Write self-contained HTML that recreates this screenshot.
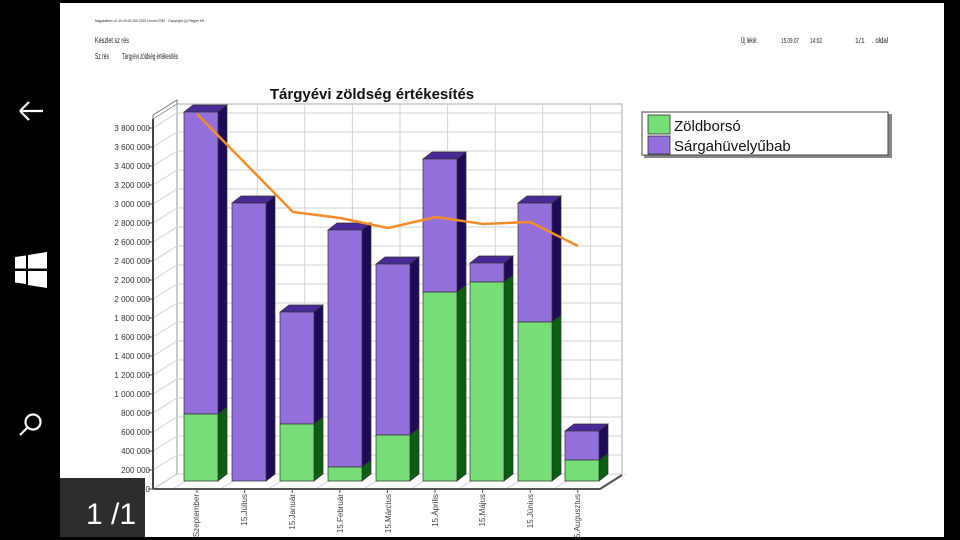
<!DOCTYPE html>
<html><head><meta charset="utf-8"><style>
html,body{margin:0;padding:0;background:#000;width:960px;height:540px;overflow:hidden;font-family:"Liberation Sans",sans-serif}
svg{position:absolute;left:0;top:0}
</style></head><body>
<svg id="s" width="960" height="540" viewBox="0 0 960 540" xmlns="http://www.w3.org/2000/svg">
<rect x="0" y="0" width="960" height="540" fill="#000"/>
<rect x="60" y="3" width="884" height="534" fill="#fff"/>
<g stroke="#fff" stroke-width="2.2" fill="none">
<path d="M20 111 H43 M20 111 L29 102 M20 111 L29 120"/>
<circle cx="33" cy="422" r="7.5"/><path d="M27.5 427.5 L20 435"/>
</g>
<g fill="#fff">
<polygon points="15,257 26,255.5 26,268.5 15,268.5"/>
<polygon points="28,255 47,252 47,268.5 28,268.5"/>
<polygon points="15,271 26,271 26,284 15,282.5"/>
<polygon points="28,271 47,271 47,288 28,285"/>
</g>
<rect x="60" y="478" width="85" height="59" fill="#2d2d2d"/>
<text x="111" y="524" fill="#fff" font-size="30" text-anchor="middle">1 /1</text>
<g fill="#222" font-size="6">
<text x="95" y="22" font-size="4" textLength="110" lengthAdjust="spacingAndGlyphs">Nagykaiterv v2.10.00.00.205 2021 Dv.ver.0780 · Copyright (c) Piegler Kft.</text>
<text x="95" y="43" font-size="8" textLength="34" lengthAdjust="spacingAndGlyphs">Készlet sz rés</text>
<text x="95" y="59" font-size="8" textLength="14" lengthAdjust="spacingAndGlyphs">Sz rés</text>
<text x="122" y="59" font-size="8" textLength="56" lengthAdjust="spacingAndGlyphs">Tárgyévi zöldség értékesítés</text>
<text x="741" y="43" font-size="8" textLength="17" lengthAdjust="spacingAndGlyphs">Új lekér.</text>
<text x="781" y="43" font-size="7" textLength="18" lengthAdjust="spacingAndGlyphs">15.09.07</text>
<text x="810" y="43" font-size="7" textLength="12" lengthAdjust="spacingAndGlyphs">14:02</text>
<text x="855" y="43" font-size="7">1/1</text>
<text x="872" y="43" font-size="8" textLength="16" lengthAdjust="spacingAndGlyphs">. oldal</text>
</g>
<text x="372" y="99" font-size="15" font-weight="bold" text-anchor="middle" fill="#111">Tárgyévi zöldség értékesítés</text>
<g id="grid"></g>
<g id="bars"></g>
<polyline points="197,114 245,163 293,212 340,218 388,228 436,217 483,224 530,222 578,246" fill="none" stroke="#f28c28" stroke-width="2.5"/>
<g font-size="8" fill="#333" text-anchor="end">
<text x="150" y="131">3 800 000</text><text x="150" y="150">3 600 000</text><text x="150" y="169">3 400 000</text><text x="150" y="188">3 200 000</text><text x="150" y="207">3 000 000</text><text x="150" y="226">2 800 000</text><text x="150" y="245">2 600 000</text><text x="150" y="264">2 400 000</text><text x="150" y="283">2 200 000</text><text x="150" y="302">2 000 000</text><text x="150" y="321">1 800 000</text><text x="150" y="340">1 600 000</text><text x="150" y="359">1 400 000</text><text x="150" y="378">1 200 000</text><text x="150" y="397">1 000 000</text><text x="150" y="416">800 000</text><text x="150" y="435">600 000</text><text x="150" y="454">400 000</text><text x="150" y="473">200 000</text><text x="150" y="492">0</text>
</g>
<g font-size="8" fill="#444" text-anchor="end">
<text transform="translate(199,494) rotate(-90)">Szeptember</text>
<text transform="translate(247,494) rotate(-90)">15.Július</text>
<text transform="translate(295,494) rotate(-90)">15.Január</text>
<text transform="translate(343,494) rotate(-90)">15.Február</text>
<text transform="translate(391,494) rotate(-90)">15.Március</text>
<text transform="translate(438,494) rotate(-90)">15.Április</text>
<text transform="translate(485,494) rotate(-90)">15.Május</text>
<text transform="translate(533,494) rotate(-90)">15.Június</text>
<text transform="translate(580,494) rotate(-90)">15.Augusztus</text>
</g>
<rect x="644" y="114" width="248" height="44" fill="#888"/>
<rect x="642" y="112" width="246" height="43" fill="#fff" stroke="#444" stroke-width="1"/>
<rect x="648" y="115" width="22" height="19" fill="#77dd77" stroke="#333" stroke-width="0.8"/>
<rect x="648" y="136" width="22" height="18" fill="#9370db" stroke="#333" stroke-width="0.8"/>
<text x="674" y="131" font-size="15" fill="#111">Zöldborsó</text>
<text x="674" y="151" font-size="15" fill="#111">Sárgahüvelyűbab</text>
</svg>
<script>
var NS="http://www.w3.org/2000/svg";
function el(p,t,a){var e=document.createElementNS(NS,t);for(var k in a)e.setAttribute(k,a[k]);p.appendChild(e);return e;}
var g=document.getElementById("grid");
el(g,"polygon",{points:"177,104 622,104 622,474 177,474",fill:"#fff",stroke:"#aaa","stroke-width":1});
el(g,"polygon",{points:"153,119 177,104 177,474 153,489",fill:"#fff",stroke:"#999","stroke-width":1});
for(var k=0;k<=19;k++){var y=474-19*k;
 el(g,"line",{x1:177,y1:y,x2:622,y2:y,stroke:"#d2d2d2","stroke-width":1});
 el(g,"line",{x1:153,y1:y+15,x2:177,y2:y,stroke:"#d2d2d2","stroke-width":1});
 el(g,"line",{x1:148,y1:y+15,x2:153,y2:y+15,stroke:"#555","stroke-width":1});}
for(var k=1;k<=9;k++){var x=177+47.6*k-15;
 el(g,"line",{x1:x,y1:104,x2:x,y2:474,stroke:"#d2d2d2","stroke-width":1});}
for(var k=0;k<=9;k++){var x=153+47.6*k+20;
 el(g,"line",{x1:x,y1:489,x2:x+24,y2:474,stroke:"#d2d2d2","stroke-width":1});
 if(k<9)el(g,"line",{x1:x+24,y1:489,x2:x+24,y2:493,stroke:"#555","stroke-width":1});}
el(g,"line",{x1:153,y1:119,x2:153,y2:489,stroke:"#444","stroke-width":2});
el(g,"polyline",{points:"153,489 600,489 622,475",fill:"none",stroke:"#555","stroke-width":2});
el(g,"polyline",{points:"177,104 177,100 153,115 153,119",fill:"none",stroke:"#777","stroke-width":1});
var bars=[[184,112,414],[232,203,481],[280,312,424],[328,230,467],[376,264,435],[423,159,292],[470,263,282],[518,203,322],[565,431,460]];
var b=document.getElementById("bars"),w=34,dx=9,dy=7,B=481,st={stroke:"#333","stroke-width":0.7};
bars.forEach(function(a){var x=a[0],T=a[1],G=a[2];
 function P(pts,f){var o={points:pts,fill:f};for(var k in st)o[k]=st[k];el(b,"polygon",o);}
 P([x+w,G,x+w+dx,G-dy,x+w+dx,B-dy,x+w,B].join(","),"#0b5e12");
 P([x+w,T,x+w+dx,T-dy,x+w+dx,G-dy,x+w,G].join(","),"#1e0b57");
 P([x,T,x+dx,T-dy,x+w+dx,T-dy,x+w,T].join(","),"#4a2a99");
 P([x,T,x+w,T,x+w,G,x,G].join(","),"#9370db");
 if(G<B)P([x,G,x+w,G,x+w,B,x,B].join(","),"#77dd77");
});
</script>
</body></html>
